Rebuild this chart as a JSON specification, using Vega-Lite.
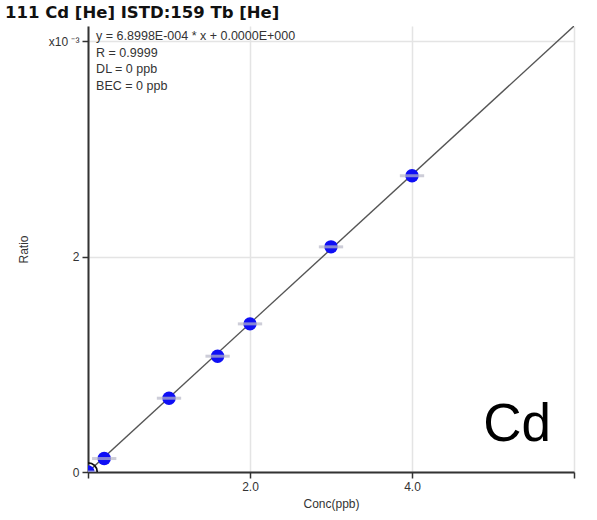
{
  "$schema": "https://vega.github.io/schema/vega-lite/v6.json",
  "width": 486,
  "height": 446,
  "autosize": "none",
  "padding": {"left": 88, "top": 26, "right": 23, "bottom": 48},
  "background": "white",
  "config": {"view": {"stroke": null}, "font": "Liberation Sans"},
  "title": {
    "text": "111 Cd [He] ISTD:159 Tb [He]",
    "anchor": "start",
    "frame": "group",
    "dx": -83,
    "offset": 5,
    "fontSize": 16.5,
    "fontWeight": "bold",
    "font": "DejaVu Sans",
    "color": "#111111"
  },
  "datasets": {
    "pts": [
      {"conc": 0, "ratio": 0, "lo": -0.15, "hi": 0.15},
      {"conc": 0.2, "ratio": 0.125, "lo": 0.05, "hi": 0.35},
      {"conc": 1.0, "ratio": 0.685, "lo": 0.85, "hi": 1.15},
      {"conc": 1.6, "ratio": 1.075, "lo": 1.45, "hi": 1.75},
      {"conc": 2.0, "ratio": 1.375, "lo": 1.85, "hi": 2.15},
      {"conc": 3.0, "ratio": 2.09, "lo": 2.85, "hi": 3.15},
      {"conc": 4.0, "ratio": 2.75, "lo": 3.85, "hi": 4.15}
    ],
    "fit": [
      {"conc": 0, "ratio": 0},
      {"conc": 6, "ratio": 4.13988}
    ]
  },
  "layer": [
    {
      "data": {"name": "fit"},
      "mark": {"type": "line", "color": "#555555", "strokeWidth": 1.4, "clip": true},
      "encoding": {
        "x": {
          "field": "conc", "type": "quantitative",
          "scale": {"domain": [0, 6], "nice": false, "zero": false},
          "axis": {
            "values": [0, 2, 4, 6],
            "labelExpr": "datum.value == 2 || datum.value == 4 ? format(datum.value, '.1f') : ''",
            "title": "Conc(ppb)",
            "titleFontWeight": "normal",
            "titleFontSize": 12,
            "titleColor": "#333333",
            "titlePadding": 6,
            "labelFontSize": 12,
            "labelColor": "#333333",
            "labelPadding": 3,
            "domainColor": "#333333",
            "domainWidth": 2,
            "tickColor": "#333333",
            "tickWidth": 1.5,
            "tickSize": 6,
            "gridColor": "#e4e4e4",
            "gridWidth": 1.5
          }
        },
        "y": {
          "field": "ratio", "type": "quantitative",
          "scale": {"domain": [0, 4.14], "nice": false, "zero": false},
          "axis": {
            "values": [0, 2, 4],
            "labelExpr": "datum.value == 4 ? 'x10 ⁻³' : format(datum.value, 'd')",
            "title": "Ratio",
            "titleFontWeight": "normal",
            "titleFontSize": 12,
            "titleColor": "#333333",
            "titlePadding": 18,
            "labelFontSize": 12,
            "labelColor": "#333333",
            "labelPadding": 3,
            "domainColor": "#333333",
            "domainWidth": 2,
            "tickColor": "#333333",
            "tickWidth": 1.5,
            "tickSize": 6,
            "gridColor": "#e4e4e4",
            "gridWidth": 1.5
          }
        }
      }
    },
    {
      "data": {"name": "pts"},
      "mark": {"type": "point", "shape": "circle", "filled": true, "color": "#0f0ff5", "opacity": 1, "size": 180, "clip": true},
      "encoding": {
        "x": {"field": "conc", "type": "quantitative"},
        "y": {"field": "ratio", "type": "quantitative"}
      }
    },
    {
      "data": {"name": "pts"},
      "mark": {"type": "rule", "color": "#b8b8c8", "strokeWidth": 3, "opacity": 0.7, "clip": true},
      "encoding": {
        "x": {"field": "lo", "type": "quantitative"},
        "x2": {"field": "hi"},
        "y": {"field": "ratio", "type": "quantitative"}
      }
    },
    {
      "data": {"name": "pts"},
      "transform": [{"filter": "datum.conc == 0"}],
      "mark": {"type": "point", "shape": "circle", "filled": false, "color": "#111111", "strokeWidth": 1.8, "opacity": 1, "size": 340, "clip": true},
      "encoding": {
        "x": {"field": "conc", "type": "quantitative"},
        "y": {"field": "ratio", "type": "quantitative"}
      }
    },
    {
      "data": {"values": [{}]},
      "mark": {"type": "text", "align": "left", "baseline": "top", "fontSize": 12.5, "lineHeight": 16.5, "color": "#333333"},
      "encoding": {
        "x": {"datum": 0.1},
        "y": {"datum": 4.1},
        "text": {"value": ["y = 6.8998E-004 * x  + 0.0000E+000", "R =  0.9999", "DL = 0 ppb", "BEC = 0 ppb"]}
      }
    },
    {
      "data": {"values": [{}]},
      "mark": {"type": "text", "align": "left", "baseline": "alphabetic", "fontSize": 53, "color": "#000000", "font": "Liberation Sans"},
      "encoding": {
        "x": {"datum": 4.88},
        "y": {"datum": 0.29},
        "text": {"value": "Cd"}
      }
    }
  ]
}
